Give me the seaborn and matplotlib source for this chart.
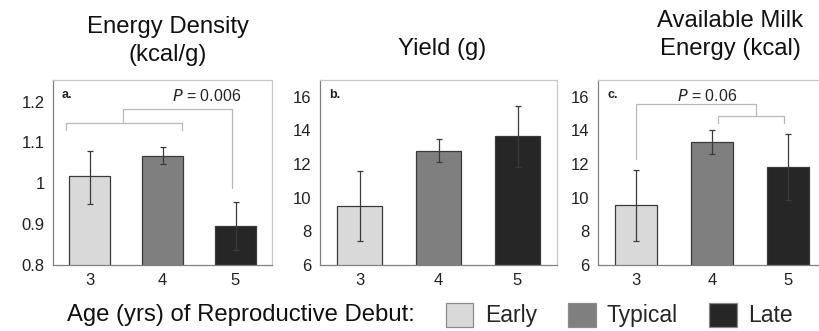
import numpy as np
import pandas as pd
import matplotlib
matplotlib.use("Agg")
import matplotlib.pyplot as plt
from matplotlib.patches import Patch
import seaborn as sns

# Data
ages = ["3", "4", "5"]
groups = ["Early", "Typical", "Late"]
bar_colors = ["#d9d9d9", "#7f7f7f", "#262626"]

energy_density = [1.018, 1.068, 0.895]
energy_density_lo = [0.950, 1.047, 0.837]
energy_density_hi = [1.080, 1.088, 0.955]

yield_g = [9.5, 12.8, 13.65]
yield_lo = [7.4, 12.15, 11.8]
yield_hi = [11.6, 13.5, 15.45]

milk_energy = [9.55, 13.3, 11.85]
milk_energy_lo = [7.4, 12.6, 9.85]
milk_energy_hi = [11.65, 14.0, 13.8]

titles = ["Energy Density\n(kcal/g)", "Yield (g)", "Available Milk\nEnergy (kcal)"]
panel_labels = ["a.", "b.", "c."]

sns.set_style("white")
plt.rcParams["font.family"] = ["Liberation Sans", "DejaVu Sans"]

fig = plt.figure(figsize=(8.19, 3.31), dpi=100)
W, H = 819.0, 331.0


def px_axes(left, right, top, bottom):
    return fig.add_axes([left / W, 1 - bottom / H, (right - left) / W, (bottom - top) / H])


axes = [px_axes(53, 272, 80, 265), px_axes(320, 557, 80, 265), px_axes(598, 826, 80, 265)]

panels = [
    (energy_density, energy_density_lo, energy_density_hi, (0.8, 1.253), [0.8, 0.9, 1.0, 1.1, 1.2]),
    (yield_g, yield_lo, yield_hi, (6, 17), [6, 8, 10, 12, 14, 16]),
    (milk_energy, milk_energy_lo, milk_energy_hi, (6, 17), [6, 8, 10, 12, 14, 16]),
]

for ax, (vals, lo, hi, ylim, yticks), label in zip(axes, panels, panel_labels):
    df = pd.DataFrame({"age": ages, "value": vals})
    sns.barplot(data=df, x="age", y="value", hue="age", palette=bar_colors,
                width=0.56, edgecolor="#3a3a3a", linewidth=0.9, errorbar=None,
                legend=False, ax=ax)
    vals_a = np.array(vals)
    yerr = [vals_a - np.array(lo), np.array(hi) - vals_a]
    ax.errorbar(range(len(ages)), vals_a, yerr=yerr, fmt="none", ecolor="#3a3a3a",
                elinewidth=0.9, capsize=2.5, capthick=0.9, zorder=5)
    ax.set_xlim(-0.5, 2.5)
    ax.set_ylim(*ylim)
    ax.set_yticks(yticks)
    ax.set_yticklabels([f"{t:g}" for t in yticks])
    ax.set_xlabel("")
    ax.set_ylabel("")
    ax.set_xticks([0.5, 1.5], minor=True)
    ax.tick_params(axis="x", which="major", length=0, labelsize=12, pad=6, labelcolor="#222222")
    ax.tick_params(axis="x", which="minor", length=4, width=0.8, color="#808080", direction="out")
    ax.tick_params(axis="y", length=4, width=0.8, color="#808080", direction="out",
                   labelsize=12, pad=2, labelcolor="#222222")
    for side in ["left", "bottom"]:
        ax.spines[side].set_color("#808080")
        ax.spines[side].set_linewidth(0.9)
    for side in ["top", "right"]:
        ax.spines[side].set_color("#c8c8c8")
        ax.spines[side].set_linewidth(0.9)
    ax.text(0.04, 0.92, label, transform=ax.transAxes, fontsize=9,
            fontweight="bold", va="center", ha="left", color="#222222")

# Significance brackets
br = dict(color="#b8b8b8", lw=0.9, zorder=1)
ax = axes[0]
ax.plot([-0.32, -0.32, 1.27, 1.27], [1.131, 1.148, 1.148, 1.131], **br)
ax.plot([0.46, 0.46, 1.95, 1.95], [1.148, 1.182, 1.182, 0.989], **br)
ax.text(1.6, 1.214, r"$\it{P}$ = 0.006", ha="center", va="center", fontsize=11.5)

ax = axes[2]
ax.plot([1.08, 1.08, 1.95, 1.95], [14.44, 14.85, 14.85, 14.44], **br)
ax.plot([0.0, 0.0, 1.58, 1.58], [12.3, 15.6, 15.6, 14.85], **br)
ax.text(0.94, 16.05, r"$\it{P}$ = 0.06", ha="center", va="center", fontsize=11.5)

# Titles
title_x = [168, 442, 730]
title_y = [16, 38, 10]
for t, x, y in zip(titles, title_x, title_y):
    fig.text(x / W, 1 - y / H, t, ha="center", va="top", fontsize=17.2,
             linespacing=1.33, color="#111111")

# Legend
fig.text(67 / W, 1 - 315 / H, "Age (yrs) of Reproductive Debut:", ha="left",
         va="center", fontsize=17.2, color="#111111")
handles = [Patch(facecolor=c, edgecolor="#8a8a8a", linewidth=0.9, label=g)
           for c, g in zip(bar_colors, groups)]
fig.legend(handles=handles, loc="center left", bbox_to_anchor=(446 / W, 1 - 315 / H),
           ncol=3, frameon=False, fontsize=16.5, handlelength=1.2, handleheight=1.25,
           handletextpad=0.5, columnspacing=1.35, borderpad=0, borderaxespad=0)

fig.savefig("out.png", dpi=100)
